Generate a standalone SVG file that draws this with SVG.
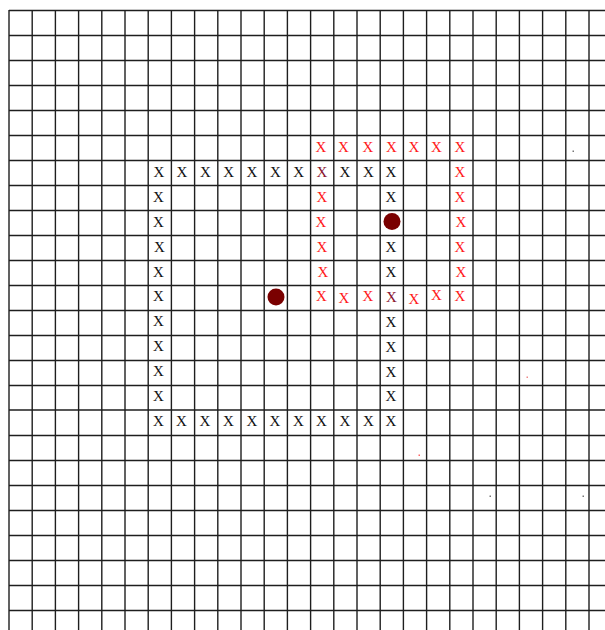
<svg xmlns="http://www.w3.org/2000/svg" width="605" height="630" viewBox="0 0 605 630">
<style>
.g line{stroke:#1e1e1e;stroke-width:1.4}
text{font-family:"Liberation Serif","Times New Roman",serif;font-size:15px;text-anchor:middle}
.k{fill:#111}
.r{fill:#ff1a1a}
.d{fill:#8a1530}
.dot{fill:#7a0000}
</style>
<rect width="605" height="630" fill="#fff"/>
<g id="grid" class="g">
<line x1="9" y1="10.5" x2="605" y2="10.5"/>
<line x1="9" y1="35.5" x2="605" y2="35.5"/>
<line x1="9" y1="60.5" x2="605" y2="60.5"/>
<line x1="9" y1="85.5" x2="605" y2="85.5"/>
<line x1="9" y1="110.5" x2="605" y2="110.5"/>
<line x1="9" y1="135.5" x2="605" y2="135.5"/>
<line x1="9" y1="160.5" x2="605" y2="160.5"/>
<line x1="9" y1="185.5" x2="605" y2="185.5"/>
<line x1="9" y1="210.5" x2="605" y2="210.5"/>
<line x1="9" y1="235.5" x2="605" y2="235.5"/>
<line x1="9" y1="260.5" x2="605" y2="260.5"/>
<line x1="9" y1="285.5" x2="605" y2="285.5"/>
<line x1="9" y1="310.5" x2="605" y2="310.5"/>
<line x1="9" y1="335.5" x2="605" y2="335.5"/>
<line x1="9" y1="360.5" x2="605" y2="360.5"/>
<line x1="9" y1="385.5" x2="605" y2="385.5"/>
<line x1="9" y1="410" x2="605" y2="410"/>
<line x1="9" y1="435.5" x2="605" y2="435.5"/>
<line x1="9" y1="460.5" x2="605" y2="460.5"/>
<line x1="9" y1="485.5" x2="605" y2="485.5"/>
<line x1="9" y1="510.5" x2="605" y2="510.5"/>
<line x1="9" y1="535.5" x2="605" y2="535.5"/>
<line x1="9" y1="560.5" x2="605" y2="560.5"/>
<line x1="9" y1="585.5" x2="605" y2="585.5"/>
<line x1="9" y1="610.5" x2="605" y2="610.5"/>
<line x1="9" y1="10" x2="9" y2="630"/>
<line x1="32.2" y1="10" x2="32.2" y2="630"/>
<line x1="55.4" y1="10" x2="55.4" y2="630"/>
<line x1="78.6" y1="10" x2="78.6" y2="630"/>
<line x1="101.8" y1="10" x2="101.8" y2="630"/>
<line x1="125" y1="10" x2="125" y2="630"/>
<line x1="148.2" y1="10" x2="148.2" y2="630"/>
<line x1="171.4" y1="10" x2="171.4" y2="630"/>
<line x1="194.6" y1="10" x2="194.6" y2="630"/>
<line x1="217.8" y1="10" x2="217.8" y2="630"/>
<line x1="241" y1="10" x2="241" y2="630"/>
<line x1="264.2" y1="10" x2="264.2" y2="630"/>
<line x1="287.4" y1="10" x2="287.4" y2="630"/>
<line x1="310.6" y1="10" x2="310.6" y2="630"/>
<line x1="333.8" y1="10" x2="333.8" y2="630"/>
<line x1="357" y1="10" x2="357" y2="630"/>
<line x1="380.2" y1="10" x2="380.2" y2="630"/>
<line x1="403.4" y1="10" x2="403.4" y2="630"/>
<line x1="426.6" y1="10" x2="426.6" y2="630"/>
<line x1="449.8" y1="10" x2="449.8" y2="630"/>
<line x1="473" y1="10" x2="473" y2="630"/>
<line x1="496.2" y1="10" x2="496.2" y2="630"/>
<line x1="519.4" y1="10" x2="519.4" y2="630"/>
<line x1="542.6" y1="10" x2="542.6" y2="630"/>
<line x1="565.8" y1="10" x2="565.8" y2="630"/>
<line x1="589" y1="10" x2="589" y2="630"/>
</g>
<g id="black-square">
<text class="k" x="159" y="177">X</text>
<text class="k" x="182" y="177">X</text>
<text class="k" x="205.4" y="177">X</text>
<text class="k" x="228.6" y="177">X</text>
<text class="k" x="252" y="177">X</text>
<text class="k" x="275.4" y="177">X</text>
<text class="k" x="298.6" y="177">X</text>
<text class="k" x="345" y="177">X</text>
<text class="k" x="368.4" y="177">X</text>
<text class="k" x="391" y="177">X</text>
<text class="k" x="158.5" y="202">X</text>
<text class="k" x="158.5" y="227">X</text>
<text class="k" x="159.5" y="252">X</text>
<text class="k" x="158.5" y="277">X</text>
<text class="k" x="158.5" y="301">X</text>
<text class="k" x="158.5" y="326">X</text>
<text class="k" x="158.5" y="351">X</text>
<text class="k" x="158.5" y="376">X</text>
<text class="k" x="158.5" y="401">X</text>
<text class="k" x="391" y="202">X</text>
<text class="k" x="391" y="252">X</text>
<text class="k" x="391" y="277">X</text>
<text class="k" x="391" y="327">X</text>
<text class="k" x="391" y="352">X</text>
<text class="k" x="391" y="377">X</text>
<text class="k" x="391" y="401">X</text>
<text class="k" x="158.5" y="426">X</text>
<text class="k" x="181.5" y="426">X</text>
<text class="k" x="205" y="426">X</text>
<text class="k" x="228.5" y="426">X</text>
<text class="k" x="252" y="426">X</text>
<text class="k" x="275" y="426">X</text>
<text class="k" x="298.5" y="426">X</text>
<text class="k" x="321.5" y="426">X</text>
<text class="k" x="345" y="426">X</text>
<text class="k" x="368.5" y="426">X</text>
<text class="k" x="391" y="426">X</text>
</g>
<g id="red-square">
<text class="r" x="321" y="152">X</text>
<text class="r" x="343.5" y="152">X</text>
<text class="r" x="368" y="152">X</text>
<text class="r" x="391.5" y="152">X</text>
<text class="r" x="414" y="152">X</text>
<text class="r" x="436.5" y="152">X</text>
<text class="r" x="460" y="152">X</text>
<text class="r" x="322" y="202">X</text>
<text class="r" x="321" y="227">X</text>
<text class="r" x="322" y="252">X</text>
<text class="r" x="323" y="277">X</text>
<text class="r" x="460" y="177">X</text>
<text class="r" x="460" y="202">X</text>
<text class="r" x="461" y="227">X</text>
<text class="r" x="460" y="252">X</text>
<text class="r" x="461" y="277">X</text>
<text class="r" x="321.5" y="301">X</text>
<text class="r" x="344" y="303">X</text>
<text class="r" x="368" y="301">X</text>
<text class="r" x="414" y="304">X</text>
<text class="r" x="436.5" y="300">X</text>
<text class="r" x="460" y="301">X</text>
</g>
<g id="overlaps">
<text class="d" x="322" y="177">X</text>
<text class="d" x="391.5" y="302">X</text>
</g>
<g id="dots">
<circle class="dot" cx="392" cy="221.5" r="8.5"/>
<circle class="dot" cx="276" cy="297" r="8.5"/>
</g>
<g id="specks" fill="#777">
<rect x="572.5" y="150.5" width="1.5" height="1.5"/>
<rect x="526.5" y="376.5" width="1.5" height="1.5" fill="#e88"/>
<rect x="418.5" y="454.5" width="1.5" height="1.5" fill="#f66"/>
<rect x="489.5" y="495.5" width="1.5" height="1.5"/>
<rect x="582.5" y="495.5" width="1.5" height="1.5"/>
</g>
</svg>
